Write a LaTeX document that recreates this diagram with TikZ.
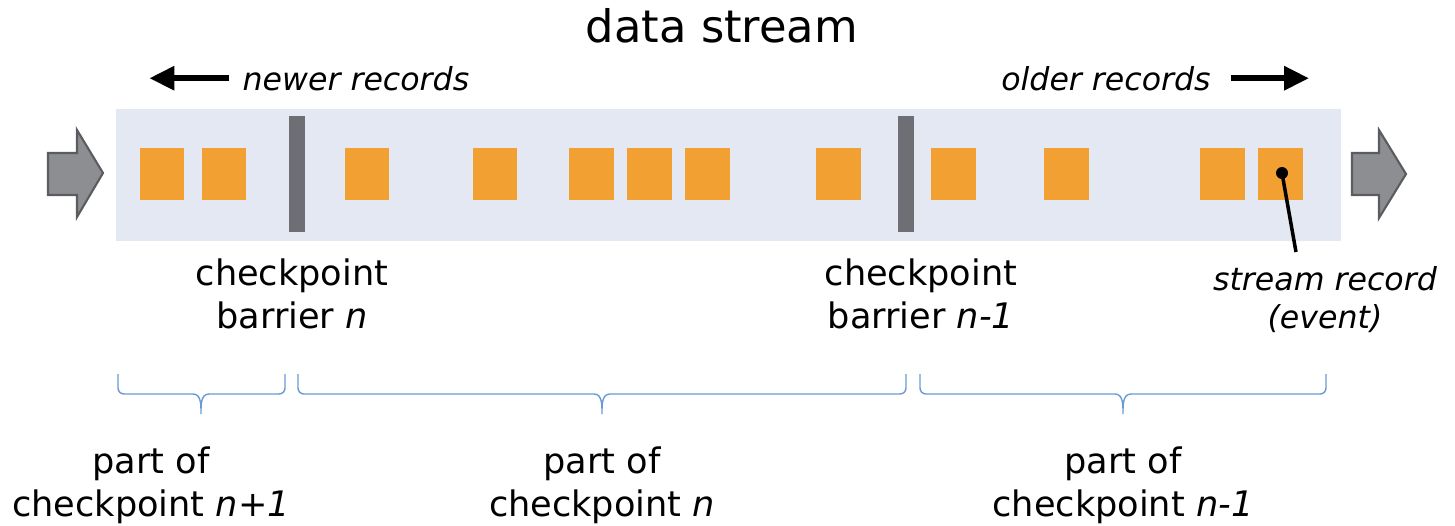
\documentclass[tikz,border=0pt]{standalone}
\usepackage{fontspec}
\setmainfont{DejaVu Sans}
\usepackage{xcolor}
\usetikzlibrary{positioning,arrows.meta}

\definecolor{streambg}{HTML}{E4E8F2}
\definecolor{recordorange}{HTML}{F2A032}
\definecolor{barriergrey}{HTML}{6D6F75}
\definecolor{flowfill}{HTML}{8C8E91}
\definecolor{flowdraw}{HTML}{5A5C60}
\definecolor{braceblue}{HTML}{6A9AD6}

\begin{document}
\begin{tikzpicture}[x=0.02cm,y=-0.02cm,
    every node/.style={inner sep=0pt},
    record/.style={fill=recordorange,minimum width=0.9cm,minimum height=1.04cm},
    barrier/.style={fill=barriergrey,minimum width=0.32cm,minimum height=2.32cm},
    label/.style={font=\fontsize{20}{24.2}\selectfont,align=center,anchor=base},
    note/.style={font=\fontsize{18}{21.6}\selectfont\itshape,align=center,anchor=base},
    flow/.style={fill=flowfill,draw=flowdraw,line width=1.2pt,line join=miter},
    dirarrow/.style={line width=3.4pt,-{Triangle[length=0.5cm,width=0.46cm]}},
    partbrace/.style={draw=braceblue,line width=0.8pt}]
  \useasboundingbox (0,0) rectangle (1455,525);

  % the stream
  \fill[streambg] (116,109) rectangle (1341,241);
  \draw[flow] (48,153) -- (77,153) -- (77,130) -- (103,173) -- (77,217) -- (77,195) -- (48,195) -- cycle;
  \draw[flow] (1352,153) -- (1379,153) -- (1379,130) -- (1406,174) -- (1379,218) -- (1379,195) -- (1352,195) -- cycle;

  \foreach \x [count=\i] in {162,224,367,495,591,649,707,838,953,1066,1222,1280}
    \node[record] (r\i) at (\x,174) {};
  \node[barrier] (bn) at (297,174) {};
  \node[barrier] (bm) at (906,174) {};

  % titles
  \node[anchor=base,font=\fontsize{25.5}{30}\selectfont] (title) at (722,42) {data stream};
  \node[note] (newer) at (356,90) {newer records};
  \node[note] (older) at (1106,90) {older records};
  \draw[dirarrow] ([xshift=-0.26cm]newer.west) -- ++(-80,0);
  \draw[dirarrow] ([xshift=0.4cm]older.east) -- ++(78,0);

  % barriers and record
  \node[label] (cbn) at (292,328) {checkpoint\\barrier \textit{n}};
  \node[label] (cbm) at (921,328) {checkpoint\\barrier \textit{n-1}};
  \node[note] (rec) at (1325,328) {stream record\\(event)};
  \node[circle,fill=black,minimum size=0.24cm] (ev) at (1282,173) {};
  \coordinate (evend) at (1296,252);
  \draw[line width=2pt] (ev.center) -- (evend);

  % parts of checkpoints
  \foreach \a/\m/\b in {118/201/285,298/602/906,920/1123/1326}
    \draw[partbrace] (\a,374) -- (\a,388) to[out=-90,in=180] (\a+6,394) -- (\m-8,394)
      to[out=0,in=90] (\m,414) to[out=90,in=180] (\m+8,394) -- (\b-6,394)
      to[out=0,in=-90] (\b,388) -- (\b,374);
  \node[label] (p1) at (151,516) {part of\\checkpoint \textit{n+1}};
  \node[label] (p2) at (602,516) {part of\\checkpoint \textit{n}};
  \node[label] (p3) at (1123,516) {part of\\checkpoint \textit{n-1}};
\end{tikzpicture}
\end{document}
